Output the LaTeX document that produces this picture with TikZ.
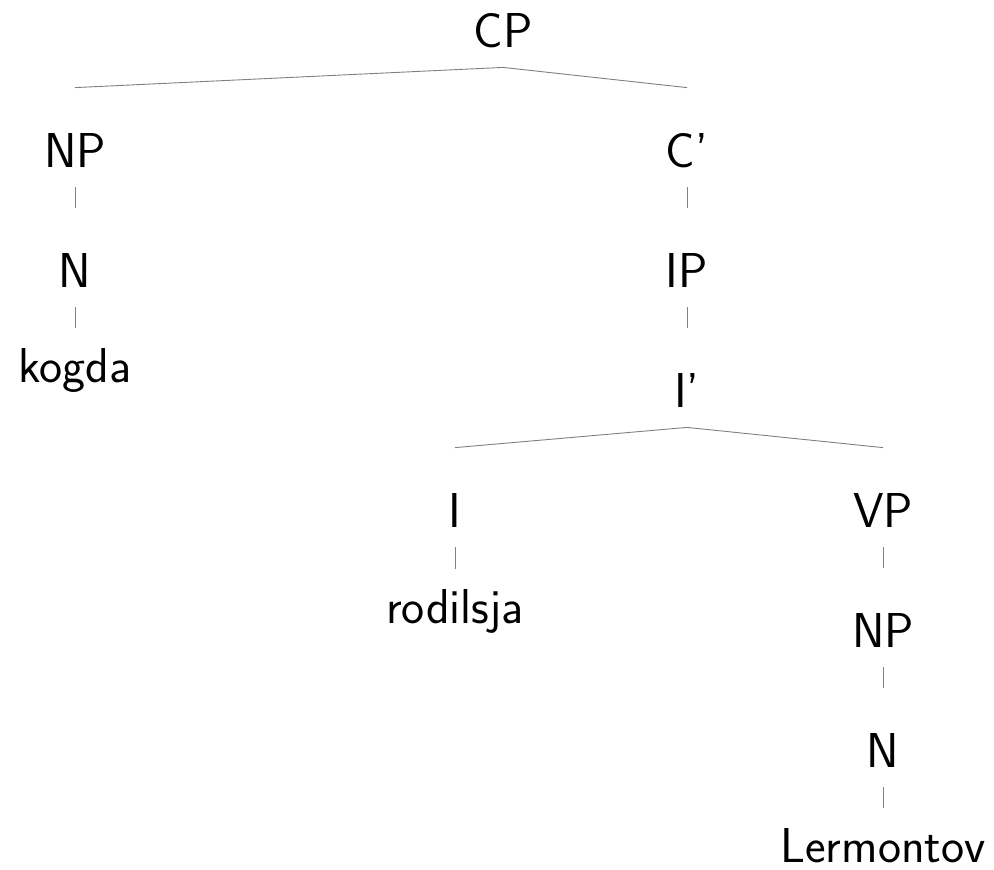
\documentclass[tikz,border=0pt]{standalone}
\begin{document}
\begin{tikzpicture}[x=0.5pt,y=-0.5pt,
  lab/.style={font=\fontsize{24.5}{29}\selectfont\sffamily, inner sep=0pt, text height=17pt, text depth=0pt, anchor=base},
  edge/.style={line width=0.45pt, black!50}]
\useasboundingbox (0,0) rectangle (994,869);
% nodes
\node[lab] (CP) at (503,47) {CP};
\node[lab] (NP1) at (75,167) {NP};
\node[lab] (Cb) at (687,167) {C'};
\node[lab] (N1) at (75,287) {N};
\node[lab] (kogda) at (75,382) {kogda};
\node[lab] (IP) at (687,287) {IP};
\node[lab] (Ib) at (687,407) {I'};
\node[lab] (I) at (455,527) {I};
\node[lab] (rod) at (455,623) {rodilsja};
\node[lab] (VP) at (883,527) {VP};
\node[lab] (NP2) at (883,647) {NP};
\node[lab] (N2) at (883,767) {N};
\node[lab] (Lerm) at (883,862) {Lermontov};
% edges
\draw[edge] ([yshift=-10pt]CP.south) -- ([yshift=22.5pt]NP1.north);
\draw[edge] ([yshift=-10pt]CP.south) -- ([yshift=22.5pt]Cb.north);
\draw[edge] ([yshift=-10pt]NP1.south) -- ([yshift=22.5pt]N1.north);
\draw[edge] ([yshift=-10pt]N1.south) -- ([yshift=10pt]kogda.north);
\draw[edge] ([yshift=-10pt]Cb.south) -- ([yshift=22.5pt]IP.north);
\draw[edge] ([yshift=-10pt]IP.south) -- ([yshift=22.5pt]Ib.north);
\draw[edge] ([yshift=-10pt]Ib.south) -- ([yshift=22.5pt]I.north);
\draw[edge] ([yshift=-10pt]Ib.south) -- ([yshift=22.5pt]VP.north);
\draw[edge] ([yshift=-10pt]I.south) -- ([yshift=10pt]rod.north);
\draw[edge] ([yshift=-10pt]VP.south) -- ([yshift=22.5pt]NP2.north);
\draw[edge] ([yshift=-10pt]NP2.south) -- ([yshift=22.5pt]N2.north);
\draw[edge] ([yshift=-10pt]N2.south) -- ([yshift=10pt]Lerm.north);
\end{tikzpicture}
\end{document}
